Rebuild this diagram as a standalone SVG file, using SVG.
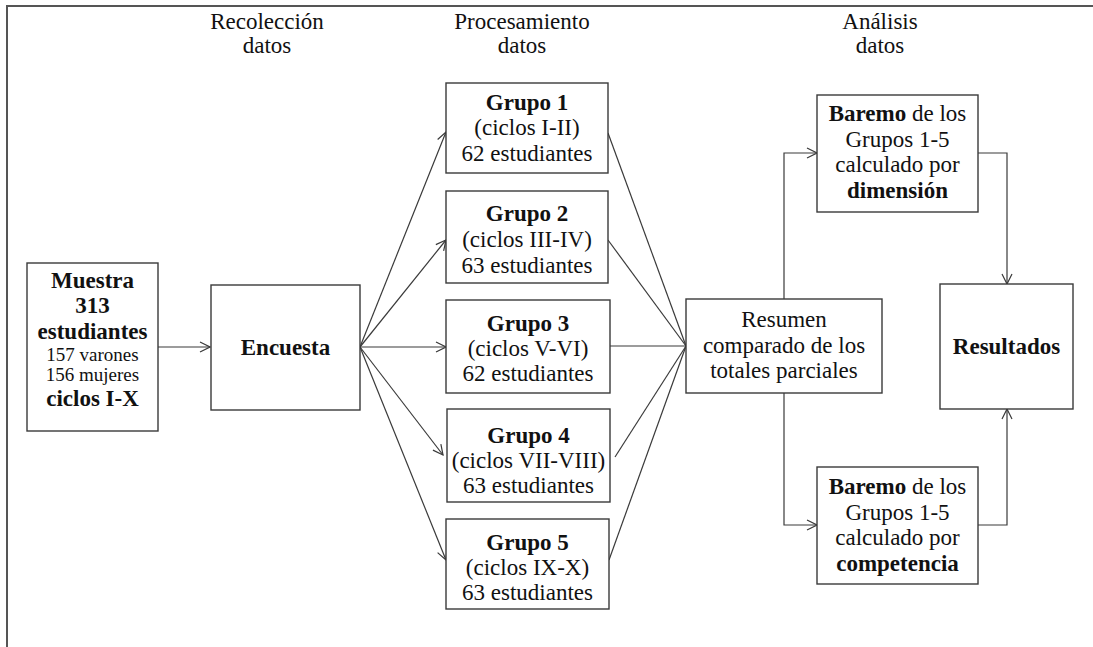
<svg xmlns="http://www.w3.org/2000/svg" width="1093" height="647" viewBox="0 0 1093 647">
<style>
text{font-family:"Liberation Serif","Times New Roman",serif;fill:#111;text-anchor:middle;font-size:23px}
.b{font-weight:bold}
.s{font-size:19px}
.box{fill:#fff;stroke:#3a3a3a;stroke-width:1.4}
.c{fill:none;stroke:#3a3a3a;stroke-width:1.2}
.frame{stroke:#555;stroke-width:2;fill:none}
</style>
<defs>
<marker id="ah" markerUnits="userSpaceOnUse" markerWidth="12" markerHeight="12" refX="11" refY="6" orient="auto">
<path d="M1,1 L11,6 L1,11" fill="none" stroke="#3a3a3a" stroke-width="1.2"/>
</marker>
</defs>
<rect width="1093" height="647" fill="#fff"/>
<path class="frame" d="M7,647 L7,6 L1093,6"/>
<g id="headers">
<text x="267" y="29">Recolección</text>
<text x="267" y="53">datos</text>
<text x="522" y="29">Procesamiento</text>
<text x="522" y="53">datos</text>
<text x="880" y="29">Análisis</text>
<text x="880" y="53">datos</text>
</g>
<g id="connectors">
<line class="c" x1="158" y1="347" x2="210" y2="347" marker-end="url(#ah)"/>
<line class="c" x1="360" y1="347" x2="446" y2="132" marker-end="url(#ah)"/>
<line class="c" x1="360" y1="347" x2="446" y2="240" marker-end="url(#ah)"/>
<line class="c" x1="360" y1="347" x2="446" y2="347" marker-end="url(#ah)"/>
<line class="c" x1="360" y1="347" x2="443" y2="455" marker-end="url(#ah)"/>
<line class="c" x1="360" y1="347" x2="446" y2="560" marker-end="url(#ah)"/>
<line class="c" x1="608" y1="133" x2="686" y2="346"/>
<line class="c" x1="608" y1="240" x2="686" y2="346"/>
<line class="c" x1="610" y1="346" x2="686" y2="346"/>
<line class="c" x1="615" y1="457" x2="686" y2="346"/>
<line class="c" x1="609" y1="560" x2="686" y2="346"/>
<polyline class="c" points="784,299 784,153 817,153" marker-end="url(#ah)"/>
<polyline class="c" points="978,153 1007,153 1007,284" marker-end="url(#ah)"/>
<polyline class="c" points="784,393 784,525 817,525" marker-end="url(#ah)"/>
<polyline class="c" points="978,525 1007,525 1007,409" marker-end="url(#ah)"/>
</g>
<g id="muestra">
<rect class="box" x="27" y="263" width="131" height="168"/>
<text class="b" x="92.5" y="288">Muestra</text>
<text class="b" x="92.5" y="313">313</text>
<text class="b" x="92.5" y="339">estudiantes</text>
<text class="s" x="92.5" y="361">157 varones</text>
<text class="s" x="92.5" y="381">156 mujeres</text>
<text class="b" x="92.5" y="406">ciclos I-X</text>
</g>
<g id="encuesta">
<rect class="box" x="211" y="285" width="149" height="125"/>
<text class="b" x="285.5" y="355">Encuesta</text>
</g>
<g id="grupo1">
<rect class="box" x="446" y="83" width="162" height="90"/>
<text class="b" x="527" y="110">Grupo 1</text>
<text x="527" y="135">(ciclos I-II)</text>
<text x="527" y="161">62 estudiantes</text>
</g>
<g id="grupo2">
<rect class="box" x="446" y="191" width="162" height="92"/>
<text class="b" x="527" y="221">Grupo 2</text>
<text x="527" y="247">(ciclos III-IV)</text>
<text x="527" y="273">63 estudiantes</text>
</g>
<g id="grupo3">
<rect class="box" x="446" y="300" width="164" height="93"/>
<text class="b" x="528" y="331">Grupo 3</text>
<text x="528" y="356">(ciclos V-VI)</text>
<text x="528" y="381">62 estudiantes</text>
</g>
<g id="grupo4">
<rect class="box" x="447" y="409" width="163" height="93"/>
<text class="b" x="528.5" y="443">Grupo 4</text>
<text x="528.5" y="468">(ciclos VII-VIII)</text>
<text x="528.5" y="493">63 estudiantes</text>
</g>
<g id="grupo5">
<rect class="box" x="446" y="519" width="163" height="90"/>
<text class="b" x="527.5" y="550">Grupo 5</text>
<text x="527.5" y="575">(ciclos IX-X)</text>
<text x="527.5" y="600">63 estudiantes</text>
</g>
<g id="resumen">
<rect class="box" x="686" y="299" width="196" height="94"/>
<text x="784" y="327">Resumen</text>
<text x="784" y="353">comparado de los</text>
<text x="784" y="378">totales parciales</text>
</g>
<g id="baremo-dimension">
<rect class="box" x="817" y="95" width="161" height="117"/>
<text x="897.5" y="121"><tspan class="b">Baremo</tspan> de los</text>
<text x="897.5" y="147">Grupos 1-5</text>
<text x="897.5" y="172">calculado por</text>
<text class="b" x="897.5" y="198">dimensión</text>
</g>
<g id="baremo-competencia">
<rect class="box" x="817" y="467" width="161" height="117"/>
<text x="897.5" y="494"><tspan class="b">Baremo</tspan> de los</text>
<text x="897.5" y="520">Grupos 1-5</text>
<text x="897.5" y="545">calculado por</text>
<text class="b" x="897.5" y="571">competencia</text>
</g>
<g id="resultados">
<rect class="box" x="940" y="284" width="133" height="125"/>
<text class="b" x="1006.5" y="354">Resultados</text>
</g>
</svg>
